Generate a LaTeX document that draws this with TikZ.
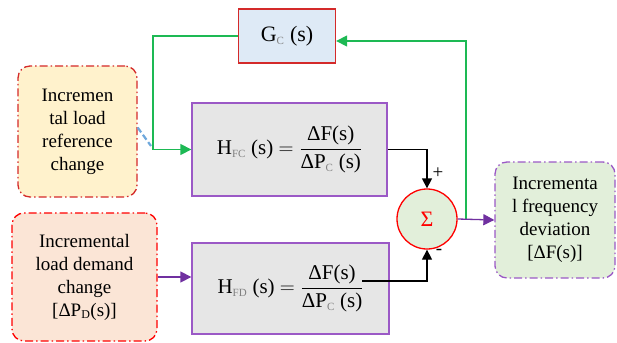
\documentclass[tikz,border=0pt]{standalone}
\usepackage{amsmath}
\usepackage{fontspec}
\setmainfont{Liberation Serif}
\usetikzlibrary{arrows.meta}
\usetikzlibrary{calc,positioning}

\definecolor{lineGreen}{HTML}{1DB954}
\definecolor{linePurple}{HTML}{7030A0}
\definecolor{boxPurple}{HTML}{9B59C6}
\definecolor{boxRed}{HTML}{D42A2A}
\definecolor{dashBlue}{HTML}{6FA8DC}
\definecolor{fillBlue}{HTML}{DEEAF6}
\definecolor{fillGray}{HTML}{E6E6E6}
\definecolor{fillYellow}{HTML}{FFF2CC}
\definecolor{fillRose}{HTML}{FBE5D6}
\definecolor{fillGreen}{HTML}{E2EFDA}

\tikzset{
  tf/.style={draw=boxPurple, fill=fillGray, line width=1.3pt, inner sep=0pt,
    font=\fontsize{21}{25}\selectfont},
  signalbox/.style={rounded corners=12pt, line width=1.3pt, inner sep=0pt, align=center,
    dash pattern=on 8pt off 3pt on 1.5pt off 3pt},
  wire/.style={line width=1.3pt},
}

\newcommand{\subgray}[1]{\textsubscript{\color{gray}\fontsize{11}{11}\selectfont #1}}

\begin{document}
\begin{tikzpicture}[x=1pt, y=-1pt, >={Triangle[length=11pt,width=11pt]},
    font=\fontsize{19}{23}\selectfont]

    \useasboundingbox (0,0) rectangle (617,342);

    \node[draw=boxRed, fill=fillBlue, line width=1.3pt, minimum width=97pt, minimum height=54pt,
        font=\fontsize{22}{25}\selectfont] (gc) at (287,36) {G\subgray{C} (s)};

    \node[tf, minimum width=195pt, minimum height=93pt] (hfc) at (289.5,149.5)
        {H\subgray{FC} (s) $=\dfrac{\text{ΔF(s)}}{\text{ΔP\subgray{C} (s)}}$};
    \node[tf, minimum width=197pt, minimum height=91pt] (hfd) at (290.5,288.5)
        {H\subgray{FD} (s) $=\dfrac{\text{ΔF(s)}}{\text{ΔP\subgray{C} (s)}}$};

    \node[circle, draw=red, fill=fillGreen, line width=1.3pt, minimum size=60pt, text=red,
        font=\fontsize{22}{25}\selectfont] (sum) at (427,219) {Σ};

    \node[signalbox, draw=boxRed, fill=fillYellow, minimum width=119pt, minimum height=131pt] (ref) at (77.5,131.5)
        {Incremen\\tal load\\reference\\change};
    \node[signalbox, draw=red, fill=fillRose, minimum width=145pt, minimum height=128pt] (dem) at (84.5,277)
        {Incremental\\load demand\\change\\{}[ΔP\textsubscript{\fontsize{12}{12}\selectfont D}(s)]};
    \node[signalbox, draw=boxPurple, fill=fillGreen, minimum width=120pt, minimum height=116pt] (out) at (555,220)
        {Incrementa\\l frequency\\deviation\\{}[ΔF(s)]};

    \coordinate (tap) at (466,219);
    \coordinate (dashend) at (151,146);
    \coordinate (hfdtap) at (362,281);

    \draw[wire, lineGreen, ->] (tap) |- ([yshift=-5pt]gc.east);
    \draw[wire, lineGreen, ->] (gc.west) -- ++(-85,0) |- (hfc.west);
    \draw[dashBlue, line width=2.2pt, dash pattern=on 6pt off 3pt] ([yshift=4pt]ref.east) -- (dashend);

    \draw[wire, ->, >={Triangle[length=10pt,width=10pt]}] (hfc.east) -| (sum.north);
    \draw[wire, ->, >={Triangle[length=10pt,width=10pt]}] (hfdtap) -| (sum.south);
    \node (plus) at (438,173) {+};
    \node (minus) at (439,252) {-};

    \draw[wire, linePurple, ->] (sum.east) -- (out.west);
    \draw[wire, linePurple, ->] (dem.east) -- (dem.east -| hfd.west);

\end{tikzpicture}
\end{document}
